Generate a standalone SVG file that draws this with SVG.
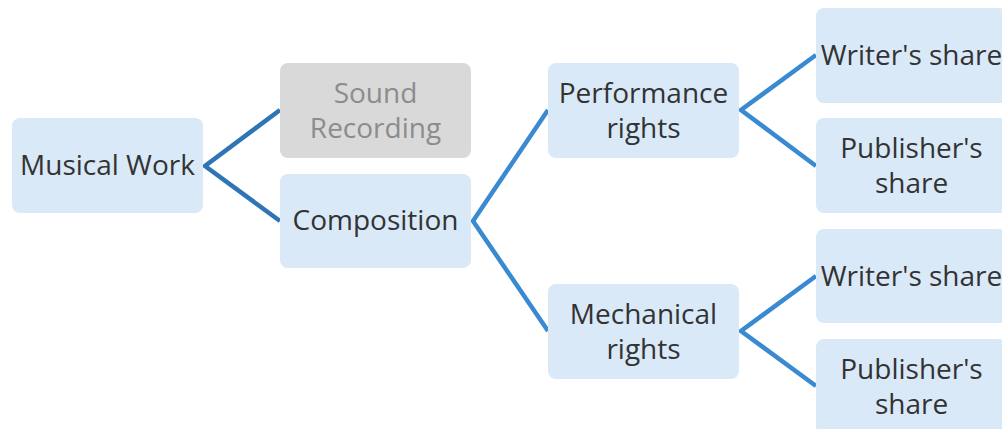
<svg xmlns="http://www.w3.org/2000/svg" width="1002" height="429" viewBox="0 0 1002 429">
<style>
.box{fill:#dae9f8}
.gray{fill:#d9d9d9}
.t{font-family:"Open Sans","Noto Sans","Liberation Sans",sans-serif;font-size:28px;fill:#333333;text-anchor:middle}
.tg{fill:#8c8c8c}
.c1{stroke:#2f75b5;stroke-width:4.5;fill:none;stroke-linejoin:miter}
.c2{stroke:#3a8ad2;stroke-width:4.5;fill:none;stroke-linejoin:miter}
</style>
<rect width="1002" height="429" fill="#ffffff"/>
<g id="connectors">
<polyline class="c1" points="280,110 205,166 280,221"/>
<polyline class="c2" points="548,110 473,221 548,331"/>
<polyline class="c2" points="816,55 741,110 816,166"/>
<polyline class="c2" points="816,276 741,331 816,386"/>
</g>
<g id="musical-work">
<rect class="box" x="12" y="118" width="191" height="95" rx="8"/>
<text class="t" x="107.5" y="175">Musical Work</text>
</g>
<g id="sound-recording">
<rect class="gray" x="280" y="63" width="191" height="95" rx="8"/>
<text class="t tg" x="375.5" y="103">Sound</text>
<text class="t tg" x="375.5" y="138">Recording</text>
</g>
<g id="composition">
<rect class="box" x="280" y="174" width="191" height="94" rx="8"/>
<text class="t" x="375.5" y="230">Composition</text>
</g>
<g id="performance-rights">
<rect class="box" x="548" y="63" width="191" height="95" rx="8"/>
<text class="t" x="643.5" y="103">Performance</text>
<text class="t" x="643.5" y="138">rights</text>
</g>
<g id="mechanical-rights">
<rect class="box" x="548" y="284" width="191" height="95" rx="8"/>
<text class="t" x="643.5" y="324">Mechanical</text>
<text class="t" x="643.5" y="359">rights</text>
</g>
<g id="writers-share-1">
<rect class="box" x="816" y="8" width="191" height="95" rx="8"/>
<text class="t" x="911.5" y="65">Writer's share</text>
</g>
<g id="publishers-share-1">
<rect class="box" x="816" y="118" width="191" height="95" rx="8"/>
<text class="t" x="911.5" y="158">Publisher's</text>
<text class="t" x="911.5" y="193">share</text>
</g>
<g id="writers-share-2">
<rect class="box" x="816" y="229" width="191" height="94" rx="8"/>
<text class="t" x="911.5" y="286">Writer's share</text>
</g>
<g id="publishers-share-2">
<rect class="box" x="816" y="339" width="191" height="95" rx="8"/>
<text class="t" x="911.5" y="379">Publisher's</text>
<text class="t" x="911.5" y="414">share</text>
</g>
</svg>
